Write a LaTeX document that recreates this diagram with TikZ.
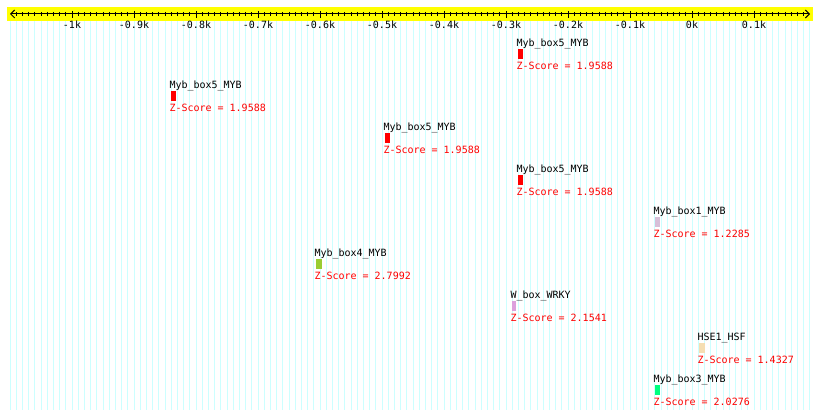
\documentclass[tikz,border=0pt]{standalone}
\usepackage{fontspec}
\setmonofont{DejaVu Sans Mono}
\usetikzlibrary{arrows.meta}
\definecolor{gridcyan}{HTML}{CCFFFF}
\definecolor{rulery}{HTML}{FFFF00}
\definecolor{mybfive}{HTML}{FF0000}
\definecolor{mybone}{HTML}{D8BFD8}
\definecolor{mybfour}{HTML}{9ACD32}
\definecolor{mybthree}{HTML}{00FF7F}
\definecolor{wbox}{HTML}{DDA0DD}
\definecolor{hseone}{HTML}{F5DEB3}
\tikzset{
  tag/.style={font=\ttfamily\fontsize{10}{12}\selectfont, inner sep=0pt, anchor=base west},
  score/.style={tag, text=red},
  motif/.style={inner sep=0pt, minimum height=10pt, anchor=north west},
  barb/.tip={Straight Barb[length=4pt,width=8pt]},
}
\begin{document}
\begin{tikzpicture}[x=1pt,y=-1pt,line width=1pt]
  \useasboundingbox (0,0) rectangle (820,419);
  % grid lines, one every 10 bp
  \foreach \b in {-1100,-1090,...,190}
    \draw[gridcyan] ({692+0.62*\b},21) -- ({692+0.62*\b},410);
  % ruler
  \fill[rulery] (7,7) rectangle (813,21);
  \coordinate (axL) at (10,14);
  \coordinate (axR) at (810,14);
  \draw[barb-barb] (axL) -- (axR);
  \foreach \b in {-1090,-1080,...,180}
    \draw ({692+0.62*\b},12) -- ({692+0.62*\b},16);
  \foreach \b/\t [count=\i] in {-1000/-1k,-900/-0.9k,-800/-0.8k,-700/-0.7k,-600/-0.6k,
      -500/-0.5k,-400/-0.4k,-300/-0.3k,-200/-0.2k,-100/-0.1k,0/0k,100/0.1k}
  {
    \draw ({692+0.62*\b},11) -- ({692+0.62*\b},18);
    \node[tag, anchor=base] (tk\i) at ({692+0.62*\b},29) {\t};
  }
  % motifs: x, width, colour, name, z-score
  \foreach \x/\w/\c/\n/\z [count=\i from 0] in {
      517/5/mybfive/Myb\_box5\_MYB/1.9588,
      170/5/mybfive/Myb\_box5\_MYB/1.9588,
      384/5/mybfive/Myb\_box5\_MYB/1.9588,
      517/5/mybfive/Myb\_box5\_MYB/1.9588,
      654/5/mybone/Myb\_box1\_MYB/1.2285,
      315/6/mybfour/Myb\_box4\_MYB/2.7992,
      511/4/wbox/W\_box\_WRKY/2.1541,
      698/6/hseone/HSE1\_HSF/1.4327,
      654/5/mybthree/Myb\_box3\_MYB/2.0276}
  {
    \node[motif, fill=\c, minimum width={\w pt}] (box\i) at (\x,{49+42*\i}) {};
    \node[tag] (name\i) at ([xshift=-1pt,yshift=2pt]box\i.north west) {\n};
    \node[score] (z\i) at ([xshift=-1pt,yshift=-10pt]box\i.south west) {Z-Score = \z};
  }
\end{tikzpicture}
\end{document}
